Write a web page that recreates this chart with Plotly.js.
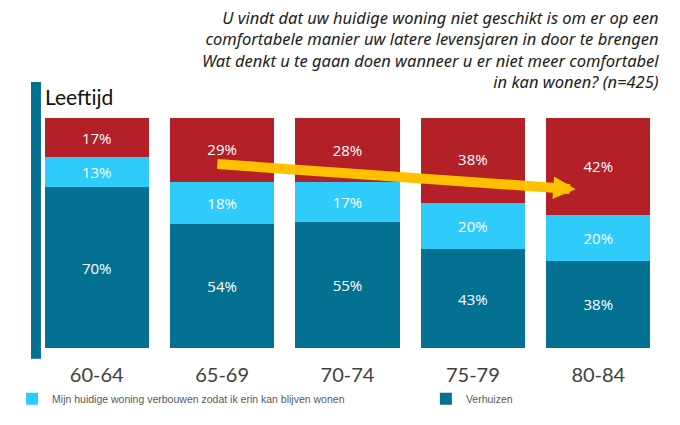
<!DOCTYPE html>
<html>
<head>
<meta charset="utf-8">
<script src="https://cdn.plot.ly/plotly-3.0.1.min.js"></script>
<style>html,body{margin:0;padding:0;background:#fff;}#chart{width:680px;height:425px;}</style>
</head>
<body>
<div id="chart"></div>
<script>
const categories = ["60-64", "65-69", "70-74", "75-79", "80-84"];
const verhuizen = [70, 54, 55, 43, 38];
const verbouwen = [13, 18, 17, 20, 20];
const anders = [17, 29, 28, 38, 42];
const seriesNames = ["Verhuizen", "Mijn huidige woning verbouwen zodat ik erin kan blijven wonen", "Weet niet / anders"];
const titleLines = [
  "U vindt dat uw huidige woning niet geschikt is om er op een",
  "comfortabele manier uw latere levensjaren in door te brengen",
  "Wat denkt u te gaan doen wanneer u er niet meer comfortabel",
  "in kan wonen? (n=425)"
];
const axisLabel = "Leeftijd";
const arrowFrom = {x: 0.95, y: 80};
const arrowTo = {x: 3.82, y: 69};

const colors = ["#047193", "#2ECBFB", "#B32028"];
const pct = v => v.map(x => x + "%");
const lblFont = {family: "Open Sans, sans-serif", size: 15, color: "#ffffff"};

const mk = (vals, i, show, leg) => ({
  type: "bar", x: categories, y: vals, name: seriesNames[i],
  marker: {color: colors[i], line: {width: 0}},
  text: pct(vals), textposition: "inside", insidetextanchor: "middle",
  textfont: lblFont, constraintext: "none", showlegend: show, legend: leg,
  hoverinfo: "skip"
});

const data = [mk(verhuizen, 0, true, "legend2"), mk(verbouwen, 1, true, "legend"), mk(anders, 2, false, "legend")];

const legFont = {family: "Liberation Sans, Arial, sans-serif", size: 10.5, color: "#595959"};

const layout = {
  width: 680, height: 425,
  margin: {l: 32, r: 19, t: 118, b: 72},
  barmode: "stack", bargap: 0.17,
  paper_bgcolor: "#ffffff", plot_bgcolor: "#ffffff",
  xaxis: {
    type: "category", range: [-0.5, 4.5], showgrid: false, zeroline: false, showline: false,
    ticks: "", tickfont: {family: "Lato, sans-serif", size: 20, color: "#404040"}, ticklabelstandoff: 13
  },
  yaxis: {range: [0, 100], visible: false, fixedrange: true},
  showlegend: true,
  legend: {
    orientation: "h", x: -0.035, xanchor: "left", y: -0.221, yanchor: "middle",
    font: legFont, itemwidth: 30, bgcolor: "rgba(0,0,0,0)"
  },
  legend2: {
    orientation: "h", x: 0.625, xanchor: "left", y: -0.221, yanchor: "middle",
    font: legFont, itemwidth: 30, bgcolor: "rgba(0,0,0,0)"
  },
  shapes: [{
    type: "rect", xref: "paper", yref: "paper",
    x0: -0.0048, x1: 0.0111, y0: -0.047, y1: 1.157,
    fillcolor: "#047193", line: {width: 0}, layer: "above"
  }],
  annotations: [
    {
      xref: "paper", yref: "paper", x: 0.014, y: 1.0, yshift: 22, xanchor: "left", yanchor: "middle",
      showarrow: false, text: axisLabel,
      font: {family: "Lato, sans-serif", size: 21, color: "#111111"}
    },
    {
      xref: "paper", yref: "paper", x: 1.0, y: 1.0, yshift: 114, xanchor: "right", yanchor: "top",
      align: "right", showarrow: false,
      text: "<i>" + titleLines.join("<br>") + "</i>",
      font: {family: "Noto Sans, sans-serif", size: 16.5, color: "#222222"}
    },
    {
      xref: "x", yref: "y", axref: "x", ayref: "y",
      x: arrowTo.x, y: arrowTo.y, ax: arrowFrom.x, ay: arrowFrom.y,
      showarrow: true, arrowhead: 2, arrowsize: 0.45, arrowwidth: 10, arrowcolor: "#FFC000", text: ""
    }
  ]
};

Plotly.newPlot("chart", data, layout, {displayModeBar: false, staticPlot: true});
</script>
</body>
</html>
